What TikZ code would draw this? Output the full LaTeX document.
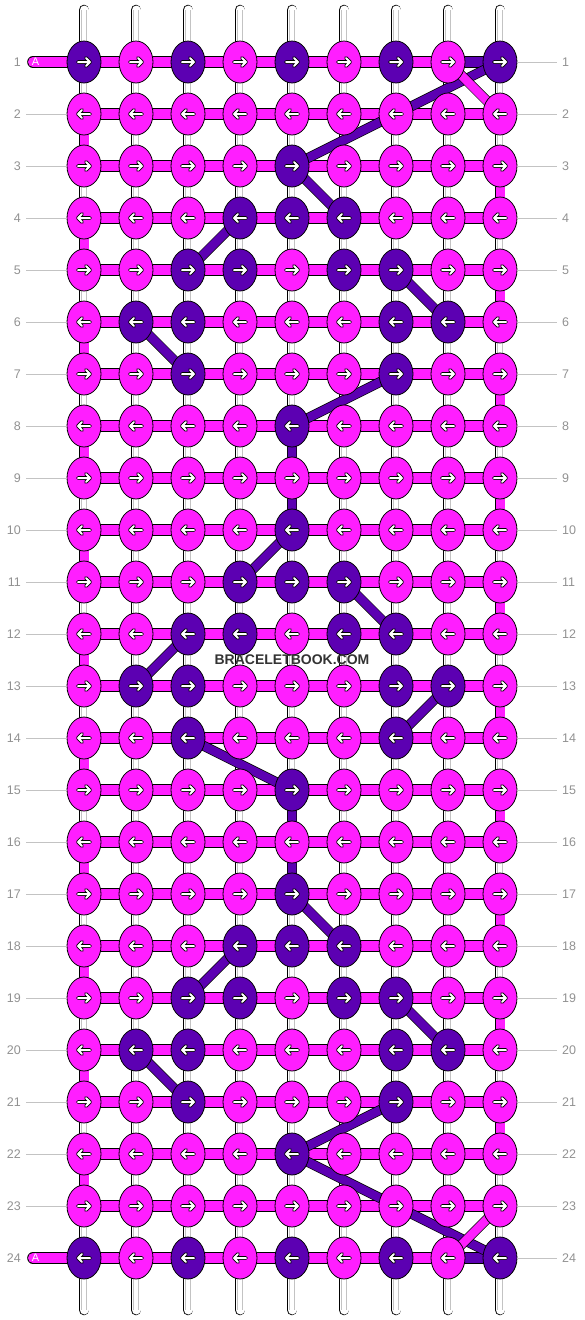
\documentclass[tikz,border=0pt]{standalone}
\usepackage{fontspec}
\setmainfont{Liberation Sans}
\usetikzlibrary{shapes.geometric}

\definecolor{knotA}{RGB}{255,30,255}
\definecolor{knotB}{RGB}{92,0,178}
\definecolor{labelgray}{RGB}{145,145,145}
\definecolor{guidegray}{RGB}{195,195,195}

\pgfdeclarelayer{back}
\pgfsetlayers{back,main}

\tikzset{
	knot/.style={ellipse, draw=black, line width=0.8pt, minimum width=34pt, minimum height=42pt, inner sep=0pt},
	tube/.style={draw=black, double=white, double distance=9pt, line width=0.8pt, line cap=round},
	seam/.style={draw=guidegray, line width=0.5pt},
	uturn/.style={draw=black, double=knotA, double distance=9pt, line width=0.8pt},
	hbar/.style={draw=black, double=knotA, double distance=10pt, line width=0.8pt, line cap=round},
	thread/.style={draw=black, double=knotB, double distance=8.5pt, line width=0.7pt},
	guide/.style={draw=guidegray, line width=0.8pt},
	rownum/.style={text=labelgray, font=\fontsize{12.5}{12.5}\selectfont, inner xsep=5pt, inner ysep=0pt},
	arw/.pic={
		\draw[black, line width=3.8pt, line cap=round, line join=round] (-6,0) -- (6,0) (2,-4) -- (6,0) -- (2,4);
		\draw[white, line width=2pt, line cap=round, line join=round] (-6,0) -- (6,0) (2,-4) -- (6,0) -- (2,4);
	}
}

\begin{document}
\begin{tikzpicture}[x=1pt,y=-1pt]
\useasboundingbox (0,0) rectangle (584,1320);

% knots, row by row (code: dark columns as bits)
\foreach \r/\code in {1/341,2/0,3/16,4/56,5/108,6/198,7/68,8/16,9/0,10/16,11/56,12/108,
		13/198,14/68,15/16,16/0,17/16,18/56,19/108,20/198,21/68,22/16,23/0,24/341}{
	\foreach \c in {1,...,9}{
		\pgfmathtruncatemacro\bit{mod(floor(\code/2^(\c-1)),2)}
		\ifnum\bit=1 \def\kc{knotB}\else\def\kc{knotA}\fi
		\node[knot, fill=\kc] (k-\r-\c) at ({32+52*\c},{10+52*\r}) {};
		\pgfmathsetmacro\dir{ifthenelse(mod(\r,2)==1,1,-1)}
		\pic[xscale=\dir] at (k-\r-\c) {arw};
	}
}

\begin{pgfonlayer}{back}
	% strings
	\foreach \c in {1,...,9}{
		\coordinate (top-\c) at ({32+52*\c},10);
		\coordinate (bot-\c) at ({32+52*\c},1310);
		\draw[tube] (top-\c) -- (bot-\c);
		\draw[seam] ([xshift=-2.5pt]top-\c) -- ([xshift=-2.5pt]bot-\c);
		\draw[seam] ([xshift=2.5pt]top-\c) -- ([xshift=2.5pt]bot-\c);
	}
	\foreach \r [evaluate=\r as \nr using int(\r+1)] in {2,4,...,22}
		\draw[uturn] (k-\r-1.center) -- (k-\nr-1.center);
	\foreach \r [evaluate=\r as \nr using int(\r+1)] in {3,5,...,21}
		\draw[uturn] (k-\r-9.center) -- (k-\nr-9.center);
	\foreach \r in {2,...,23}
		\draw[hbar] (k-\r-1.center) -- (k-\r-9.center);
	\coordinate (st-1) at (33,62);
	\coordinate (st-24) at (33,1258);
	\draw[hbar] (st-1) -- (k-1-8.center);
	\draw[hbar] (st-24) -- (k-24-8.center);
	\draw[hbar, double=knotB] (k-1-8.center) -- (k-1-9.center);
	\draw[hbar, double=knotB] (k-24-8.center) -- (k-24-9.center);

	% purple threads
	\draw[thread] (k-1-9.center) -- (k-3-5.center) -- (k-4-6.center);
	\draw[thread] (k-4-4.center) -- (k-5-3.center);
	\draw[thread] (k-5-7.center) -- (k-6-8.center);
	\draw[thread] (k-6-2.center) -- (k-7-3.center);
	\draw[thread] (k-7-7.center) -- (k-8-5.center) -- (k-10-5.center) -- (k-11-4.center);
	\draw[thread] (k-11-6.center) -- (k-12-7.center);
	\draw[thread] (k-12-3.center) -- (k-13-2.center);
	\draw[thread] (k-13-8.center) -- (k-14-7.center);
	\draw[thread] (k-14-3.center) -- (k-15-5.center) -- (k-17-5.center) -- (k-18-6.center);
	\draw[thread] (k-18-4.center) -- (k-19-3.center);
	\draw[thread] (k-19-7.center) -- (k-20-8.center);
	\draw[thread] (k-20-2.center) -- (k-21-3.center);
	\draw[thread] (k-21-7.center) -- (k-22-5.center) -- (k-24-9.center);

	\draw[thread, double=knotA] (k-1-8.center) -- (k-2-9.center);
	\draw[thread, double=knotA] (k-23-9.center) -- (k-24-8.center);
\end{pgfonlayer}

% row numbers
\foreach \r in {1,...,24}{
	\node[rownum, anchor=east] (ln-\r) at (26,{10+52*\r}) {\r};
	\node[rownum, anchor=west] (rn-\r) at (557,{10+52*\r}) {\r};
	\draw[guide] (k-\r-9.east) -- (rn-\r.west);
}
\foreach \r in {2,...,23}
	\draw[guide] (ln-\r.east) -- (k-\r-1.west);

\node[text=white, font=\fontsize{11}{11}\selectfont, inner sep=0pt] (a-1) at (35.5,62) {A};
\node[text=white, font=\fontsize{11}{11}\selectfont, inner sep=0pt] (a-24) at (35.5,1258) {A};

\node[text=black!80, font=\bfseries\fontsize{14}{14}\selectfont] (wm) at (292,660) {BRACELETBOOK.COM};

\end{tikzpicture}
\end{document}
